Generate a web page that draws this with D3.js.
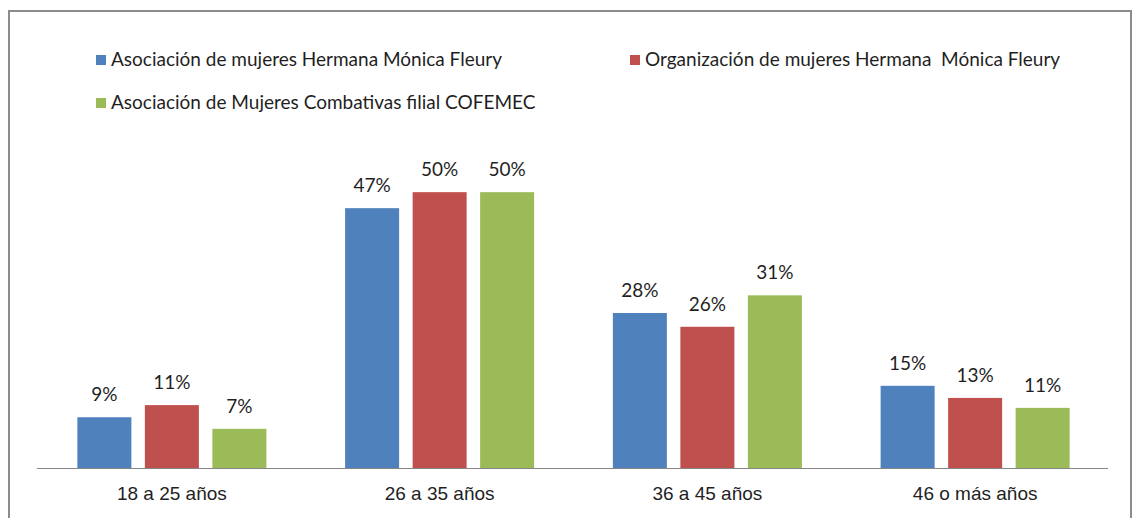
<!DOCTYPE html>
<html lang="es">
<head>
<meta charset="UTF-8">
<title>Edad por organización</title>
<script src="https://d3js.org/d3.v7.min.js"></script>
<style>
    body { margin: 0; background: #fff; }
    svg { display: block; font-family: Lato, 'Noto Sans', sans-serif; }
    .lbl { font-size: 19px; fill: #1f1f1f; }
</style>
</head>
<body>
<svg id="chart" width="1134" height="518"></svg>
<script>
    // age groups
    const categories = ["18 a 25 años", "26 a 35 años", "36 a 45 años", "46 o más años"];
    const seriesNames = [
        "Asociación de mujeres Hermana Mónica Fleury",
        "Organización de mujeres Hermana  Mónica Fleury",
        "Asociación de Mujeres Combativas filial COFEMEC"
    ];
    const asociacionFleury = [9.2, 47.1, 28.1, 14.9];
    const organizacionFleury = [11.4, 50, 25.6, 12.7];
    const cofemec = [7.1, 50, 31.3, 10.9];
    const colors = ["#4f81bd", "#c0504d", "#9bbb59"];

    const series = [asociacionFleury, organizacionFleury, cofemec];

    const svg = d3.select("#chart");
    const W = 1134, H = 518;

    // outer frame
    svg.append("rect")
        .attr("x", 9).attr("y", 11)
        .attr("width", 1122).attr("height", H)
        .attr("fill", "none").attr("stroke", "#8c8c8c").attr("stroke-width", 2);

    const x0 = d3.scaleBand().domain(categories).range([38, 1109]).paddingInner(0.294).paddingOuter(0.147);
    const x1 = d3.scaleBand().domain(d3.range(series.length)).range([0, x0.bandwidth()]).paddingInner(0.2);
    const y = d3.scaleLinear().domain([0, 60]).range([468, 137]);

    const groups = svg.selectAll("g.cat")
        .data(categories)
        .join("g")
        .attr("class", "cat")
        .attr("transform", d => `translate(${x0(d)},0)`);

    groups.selectAll("rect")
        .data((c, ci) => series.map((s, si) => ({ si, v: s[ci] })))
        .join("rect")
        .attr("x", d => x1(d.si))
        .attr("y", d => y(d.v))
        .attr("width", x1.bandwidth())
        .attr("height", d => y(0) - y(d.v))
        .attr("fill", d => colors[d.si]);

    groups.selectAll("text.val")
        .data((c, ci) => series.map((s, si) => ({ si, v: s[ci] })))
        .join("text")
        .attr("class", "val lbl")
        .attr("x", d => x1(d.si) + x1.bandwidth() / 2)
        .attr("y", d => y(d.v) - 16)
        .attr("text-anchor", "middle")
        .text(d => Math.round(d.v) + "%");

    // category axis
    const xAxis = svg.append("g")
        .attr("transform", `translate(0,${y(0)})`)
        .call(d3.axisBottom(x0).tickSize(0).tickPadding(19));
    xAxis.select(".domain").attr("stroke", "#868686").attr("d", "M37,0.5H1108");
    xAxis.selectAll("text").attr("class", "lbl").attr("font-family", null).attr("font-size", null);

    // legend
    const legendPos = [[96, 60], [630, 60], [96, 103]];
    const legend = svg.selectAll("g.leg")
        .data(seriesNames)
        .join("g")
        .attr("class", "leg")
        .attr("transform", (d, i) => `translate(${legendPos[i][0]},${legendPos[i][1]})`);
    legend.append("rect")
        .attr("x", 0).attr("y", -5).attr("width", 10).attr("height", 10)
        .attr("fill", (d, i) => colors[i]);
    legend.append("text")
        .attr("class", "lbl")
        .attr("x", 15).attr("y", 6)
        .style("white-space", "pre")
        .text(d => d);
</script>
</body>
</html>
